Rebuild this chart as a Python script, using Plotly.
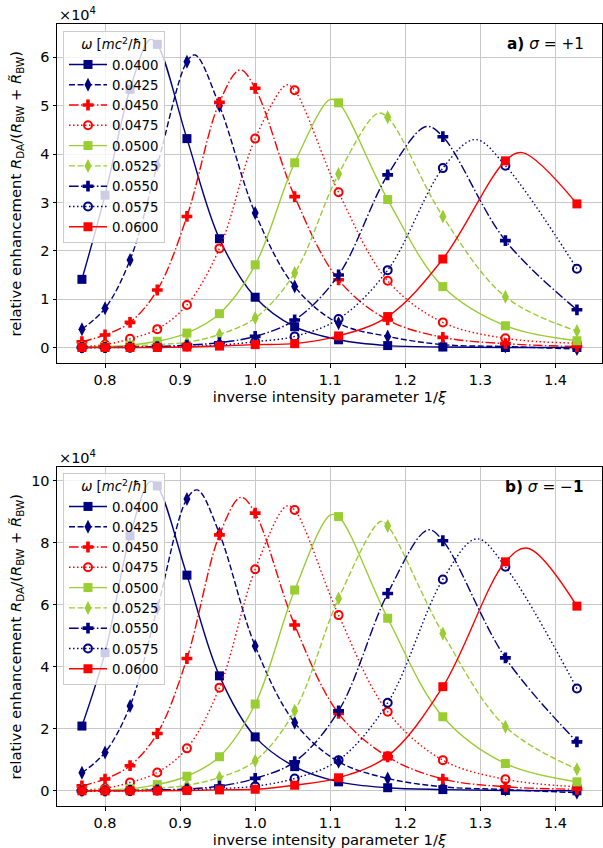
import plotly.graph_objects as go

# inverse intensity parameter 1/xi (xi = 1.3 ... 0.7)
inv_xi = [0.7692, 0.8, 0.8333, 0.8696, 0.9091, 0.9524, 1.0, 1.0526, 1.1111, 1.1765, 1.25, 1.3333, 1.4286]

omega_labels = ["0.0400", "0.0425", "0.0450", "0.0475", "0.0500", "0.0525", "0.0550", "0.0575", "0.0600"]

# panel a) sigma = +1, values in units of 1e4
a_0400 = [1.41, 3.15, 5.34, 6.27, 4.32, 2.25, 1.04, 0.43, 0.16, 0.04, 0.01, 0.0, 0.0]
a_0425 = [0.38, 0.81, 1.81, 3.77, 5.91, 5.00, 2.78, 1.26, 0.50, 0.23, 0.06, 0.02, -0.03]
a_0450 = [0.12, 0.26, 0.52, 1.19, 2.71, 5.07, 5.36, 3.12, 1.40, 0.57, 0.21, 0.08, 0.02]
a_0475 = [0.02, 0.06, 0.18, 0.38, 0.88, 2.05, 4.32, 5.32, 3.21, 1.38, 0.52, 0.19, 0.09]
a_0500 = [0.01, 0.02, 0.05, 0.13, 0.30, 0.70, 1.71, 3.82, 5.06, 3.06, 1.26, 0.45, 0.14]
a_0525 = [0.0, 0.01, 0.03, 0.06, 0.11, 0.27, 0.61, 1.54, 3.59, 4.76, 2.71, 1.05, 0.34]
a_0550 = [0.0, 0.0, 0.01, 0.02, 0.05, 0.10, 0.23, 0.57, 1.50, 3.57, 4.36, 2.21, 0.78]
a_0575 = [0.0, 0.0, 0.0, 0.01, 0.02, 0.05, 0.12, 0.23, 0.59, 1.60, 3.71, 3.76, 1.63]
a_0600 = [0.0, 0.0, 0.0, 0.0, 0.01, 0.03, 0.06, 0.08, 0.24, 0.64, 1.83, 3.86, 2.97]
# fitted-curve maxima (x, y)
a_peak_x = [0.860, 0.920, 0.980, 1.042, 1.100, 1.163, 1.228, 1.293, 1.356]
a_peak_y = [6.37, 6.05, 5.74, 5.43, 5.13, 4.84, 4.57, 4.30, 4.03]

# panel b) sigma = -1
b_0400 = [2.09, 4.46, 8.23, 9.84, 6.96, 3.71, 1.74, 0.78, 0.29, 0.10, 0.04, 0.01, 0.0]
b_0425 = [0.58, 1.24, 2.74, 5.89, 9.42, 8.30, 4.67, 2.20, 0.94, 0.40, 0.13, 0.04, -0.06]
b_0450 = [0.16, 0.38, 0.81, 1.85, 4.27, 8.26, 8.96, 5.35, 2.50, 1.10, 0.38, 0.13, 0.05]
b_0475 = [0.03, 0.08, 0.27, 0.59, 1.37, 3.33, 7.15, 9.06, 5.67, 2.55, 0.99, 0.37, 0.13]
b_0500 = [0.01, 0.02, 0.07, 0.20, 0.47, 1.10, 2.80, 6.48, 8.85, 5.57, 2.39, 0.88, 0.29]
b_0525 = [0.0, 0.01, 0.03, 0.08, 0.18, 0.43, 0.97, 2.58, 6.21, 8.55, 5.08, 2.07, 0.70]
b_0550 = [0.0, 0.0, 0.01, 0.03, 0.06, 0.15, 0.40, 0.94, 2.58, 6.37, 8.07, 4.29, 1.58]
b_0575 = [0.0, 0.0, 0.0, 0.01, 0.03, 0.07, 0.15, 0.40, 0.99, 2.84, 6.82, 7.23, 3.30]
b_0600 = [0.0, 0.0, 0.0, 0.0, 0.01, 0.03, 0.05, 0.18, 0.42, 1.12, 3.36, 7.39, 5.96]
b_peak_x = [0.860, 0.923, 0.981, 1.042, 1.100, 1.167, 1.230, 1.295, 1.363]
b_peak_y = [9.98, 9.71, 9.47, 9.19, 8.90, 8.69, 8.42, 8.13, 7.83]

x_ticks = [0.8, 0.9, 1.0, 1.1, 1.2, 1.3, 1.4]
a_y_ticks = [0, 1, 2, 3, 4, 5, 6]
b_y_ticks = [0, 2, 4, 6, 8, 10]

NAVY, RED, GREEN = "#000080", "#ff0000", "#9acd32"
SOLID = "solid"
DASH = "6px,2.6px"
DASHDOT = "9.6px,2.4px,1.5px,2.4px"
DOT = "1.5px,2.5px"
styles = [
    (NAVY, SOLID, "square", 9, False),
    (NAVY, DASH, "diamond-tall", 10, False),
    (RED, DASHDOT, "cross", 9, False),
    (RED, DOT, "circle-open", 8, True),
    (GREEN, SOLID, "square", 9, False),
    (GREEN, DASH, "diamond-tall", 10, False),
    (NAVY, DASHDOT, "cross", 9, False),
    (NAVY, DOT, "circle-open", 8, True),
    (RED, SOLID, "square", 9, False),
]

FONT = "DejaVu Sans"
FS_TICK = 14.5
FS_LABEL = 14.8
FS_LEG = 13.3
LW = 1.4

fig = go.Figure()


def add_panel(series, peak_x, peak_y, xa, ya, legend):
    for i, ys in enumerate(series):
        color, dash, sym, size, is_open = styles[i]
        pts = sorted(list(zip(inv_xi, ys)) + [(peak_x[i], peak_y[i])])
        cx = [p[0] for p in pts]
        cy = [p[1] for p in pts]
        marker = dict(symbol=sym, size=size, color=color,
                      line=dict(color=color, width=2 if is_open else 0))
        fig.add_trace(go.Scatter(x=cx, y=cy, mode="lines", xaxis=xa, yaxis=ya,
                                 line=dict(color=color, width=LW, dash=dash, shape="spline", smoothing=1.0),
                                 showlegend=False, hoverinfo="skip"))
        fig.add_trace(go.Scatter(x=inv_xi, y=ys, mode="markers", xaxis=xa, yaxis=ya,
                                 marker=marker, showlegend=False))
    for i, lab in enumerate(omega_labels):
        color, dash, sym, size, is_open = styles[i]
        marker = dict(symbol=sym, size=size, color=color,
                      line=dict(color=color, width=2 if is_open else 0))
        fig.add_trace(go.Scatter(x=[None], y=[None], mode="lines+markers", xaxis=xa, yaxis=ya,
                                 name=lab, legend=legend,
                                 line=dict(color=color, width=LW, dash=dash),
                                 marker=marker, showlegend=True))


add_panel([a_0400, a_0425, a_0450, a_0475, a_0500, a_0525, a_0550, a_0575, a_0600],
          a_peak_x, a_peak_y, "x", "y", "legend")
add_panel([b_0400, b_0425, b_0450, b_0475, b_0500, b_0525, b_0550, b_0575, b_0600],
          b_peak_x, b_peak_y, "x2", "y2", "legend2")

W, H = 603, 848
L, R = 57 / W, 602 / W
a_dom = [1 - 363 / H, 1 - 24 / H]
b_dom = [1 - 806 / H, 1 - 467 / H]

axis_common = dict(showline=True, linecolor="black", linewidth=1, mirror=True,
                   ticks="outside", ticklen=3.5, tickwidth=0.8, tickcolor="black",
                   showgrid=True, gridcolor="#c8c8c8", gridwidth=1, zeroline=False,
                   tickfont=dict(family=FONT, size=FS_TICK, color="black"), automargin=False)

xtitle = dict(text="inverse intensity parameter 1/<i>ξ</i>", font=dict(family=FONT, size=FS_LABEL, color="black"), standoff=2)

legend_common = dict(bgcolor="rgba(255,255,255,0.8)", bordercolor="#cccccc", borderwidth=1,
                     font=dict(family=FONT, size=FS_LEG, color="black"), itemwidth=38,
                     xanchor="left", yanchor="top", tracegroupgap=0,
                     title=dict(text="<i>ω</i> [<i>mc</i><sup>2</sup>/<i>ħ</i>]", side="top center",
                                font=dict(family=FONT, size=FS_LEG, color="black")))

fig.update_layout(
    width=W, height=H, margin=dict(l=0, r=0, t=0, b=0),
    paper_bgcolor="white", plot_bgcolor="white",
    font=dict(family=FONT, size=FS_TICK, color="black"),
    xaxis=dict(domain=[L, R], range=[0.736, 1.462], tickvals=x_ticks, ticktext=[f"{v:.1f}" for v in x_ticks],
               anchor="y", title=xtitle, **axis_common),
    yaxis=dict(domain=a_dom, range=[-0.32, 6.69], tickvals=a_y_ticks, anchor="x", **axis_common),
    xaxis2=dict(domain=[L, R], range=[0.736, 1.462], tickvals=x_ticks, ticktext=[f"{v:.1f}" for v in x_ticks],
                anchor="y2", title=xtitle, **axis_common),
    yaxis2=dict(domain=b_dom, range=[-0.49, 10.45], tickvals=b_y_ticks, anchor="x2", **axis_common),
    legend=dict(x=63 / W, y=1 - 31 / H, **legend_common),
    legend2=dict(x=63 / W, y=1 - 473 / H, **legend_common),
    showlegend=True,
)

ytitle = "relative enhancement <i>R</i><sub>DA</sub>/(<i>R</i><sub>BW</sub> + <i>R\u0303</i><sub>BW</sub>)"
for dom, tag, sig in [(a_dom, "a)", "+1"), (b_dom, "b)", "\u2212<b>1</b>")]:
    mid = (dom[0] + dom[1]) / 2
    fig.add_annotation(xref="paper", yref="paper", x=16 / W, y=mid, text=ytitle, textangle=-90,
                       showarrow=False, font=dict(family=FONT, size=FS_LABEL, color="black"),
                       xanchor="center", yanchor="middle")
    fig.add_annotation(xref="paper", yref="paper", x=L, y=dom[1], text="\u00d710<sup>4</sup>",
                       showarrow=False, font=dict(family=FONT, size=FS_TICK, color="black"),
                       xanchor="left", yanchor="bottom", yshift=-1)
    fig.add_annotation(xref="paper", yref="paper", x=586 / W, y=dom[1] - 20 / H,
                       text=f"<b>{tag}</b> <i>σ</i> = {sig}",
                       showarrow=False, font=dict(family=FONT, size=FS_LABEL + 0.5, color="black"),
                       xanchor="right", yanchor="middle")

fig.write_html("out.html", config={"displayModeBar": False},
               post_script="document.body.style.margin='0';document.body.style.overflow='hidden';")
